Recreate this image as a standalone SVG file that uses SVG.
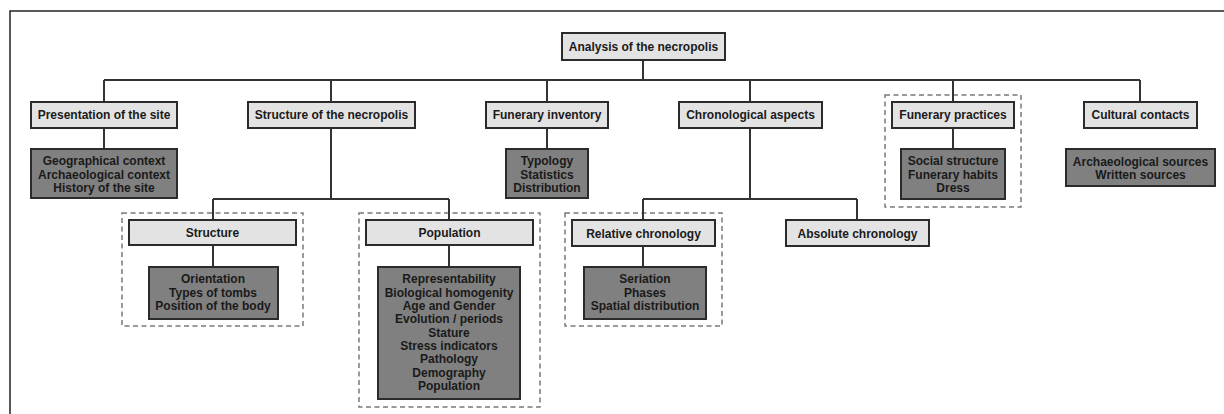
<svg xmlns="http://www.w3.org/2000/svg" width="1224" height="414" viewBox="0 0 1224 414">
<style>
text{font-family:"Liberation Sans",Arial,sans-serif;font-weight:bold;font-size:12px;fill:#1a1a1a;text-anchor:middle}
.l{fill:#e3e3e3;stroke:#2b2b2b;stroke-width:2}
.d{fill:#808080;stroke:#2b2b2b;stroke-width:2}
.g{fill:none;stroke:#7a7a7a;stroke-width:1.5;stroke-dasharray:5 3.5}
.c{fill:none;stroke:#333;stroke-width:2}
</style>
<rect width="1224" height="414" fill="#fff"/>
<path d="M10,414 V11 H1224" fill="none" stroke="#222" stroke-width="1.5"/>
<g id="groups">
<rect class="g" x="885" y="95" width="136" height="112"/>
<rect class="g" x="122" y="213" width="181" height="113"/>
<rect class="g" x="359" y="213" width="181" height="194"/>
<rect class="g" x="565" y="213" width="157" height="113"/>
</g>
<g id="connectors">
<path class="c" d="M643,60 V80 M104,80 H1140 M104,80 V102 M331,80 V102 M547,80 V102 M750,80 V102 M953,80 V102 M1140,80 V102"/>
<path class="c" d="M104,128 V149 M547,128 V149 M953,128 V149"/>
<path class="c" d="M331,128 V199 M213,199 H449 M213,199 V220 M449,199 V220 M213,245 V267 M449,245 V267"/>
<path class="c" d="M750,128 V199 M643,199 H857 M643,199 V220 M857,199 V220 M643,246 V267"/>
</g>
<g id="root"><rect class="l" x="562" y="33" width="163" height="27"/><text x="643.5" y="51">Analysis of the necropolis</text></g>
<g id="presentation"><rect class="l" x="31" y="102" width="146" height="26"/><text x="104" y="119">Presentation of the site</text></g>
<g id="structure-necropolis"><rect class="l" x="248" y="102" width="167" height="26"/><text x="331.5" y="119">Structure of the necropolis</text></g>
<g id="funerary-inventory"><rect class="l" x="486" y="102" width="122" height="26"/><text x="547" y="119">Funerary inventory</text></g>
<g id="chronological"><rect class="l" x="679" y="102" width="143" height="26"/><text x="750.5" y="119">Chronological aspects</text></g>
<g id="funerary-practices"><rect class="l" x="892" y="102" width="122" height="26"/><text x="953" y="119">Funerary practices</text></g>
<g id="cultural"><rect class="l" x="1084" y="102" width="113" height="26"/><text x="1140.5" y="119">Cultural contacts</text></g>
<g id="presentation-items"><rect class="d" x="31" y="149" width="146" height="49"/>
<text x="104" y="165.3">Geographical context</text><text x="104" y="178.6">Archaeological context</text><text x="104" y="191.9">History of the site</text></g>
<g id="inventory-items"><rect class="d" x="506" y="149" width="82" height="49"/>
<text x="547" y="165.3">Typology</text><text x="547" y="178.6">Statistics</text><text x="547" y="191.9">Distribution</text></g>
<g id="practices-items"><rect class="d" x="901" y="149" width="104" height="50"/>
<text x="953" y="165.3">Social structure</text><text x="953" y="178.6">Funerary habits</text><text x="953" y="191.9">Dress</text></g>
<g id="cultural-items"><rect class="d" x="1066" y="149" width="149" height="37"/>
<text x="1140.5" y="166">Archaeological sources</text><text x="1140.5" y="178.6">Written sources</text></g>
<g id="structure"><rect class="l" x="129" y="220" width="167" height="25"/><text x="212.5" y="237">Structure</text></g>
<g id="structure-items"><rect class="d" x="149" y="267" width="129" height="52"/>
<text x="213" y="283.3">Orientation</text><text x="213" y="296.6">Types of tombs</text><text x="213" y="310">Position of the body</text></g>
<g id="population"><rect class="l" x="366" y="220" width="167" height="25"/><text x="449.5" y="237">Population</text></g>
<g id="population-items"><rect class="d" x="378" y="267" width="142" height="132"/>
<text x="449" y="283.3">Representability</text><text x="449" y="296.6">Biological homogenity</text><text x="449" y="310">Age and Gender</text><text x="449" y="323.3">Evolution / periods</text><text x="449" y="336.6">Stature</text><text x="449" y="350">Stress indicators</text><text x="449" y="363.3">Pathology</text><text x="449" y="376.6">Demography</text><text x="449" y="390">Population</text></g>
<g id="relative"><rect class="l" x="572" y="220" width="143" height="26"/><text x="643.5" y="237.5">Relative chronology</text></g>
<g id="relative-items"><rect class="d" x="584" y="267" width="122" height="52"/>
<text x="645" y="283.3">Seriation</text><text x="645" y="296.6">Phases</text><text x="645" y="310">Spatial distribution</text></g>
<g id="absolute"><rect class="l" x="786" y="220" width="143" height="26"/><text x="857.5" y="237.5">Absolute chronology</text></g>
</svg>
